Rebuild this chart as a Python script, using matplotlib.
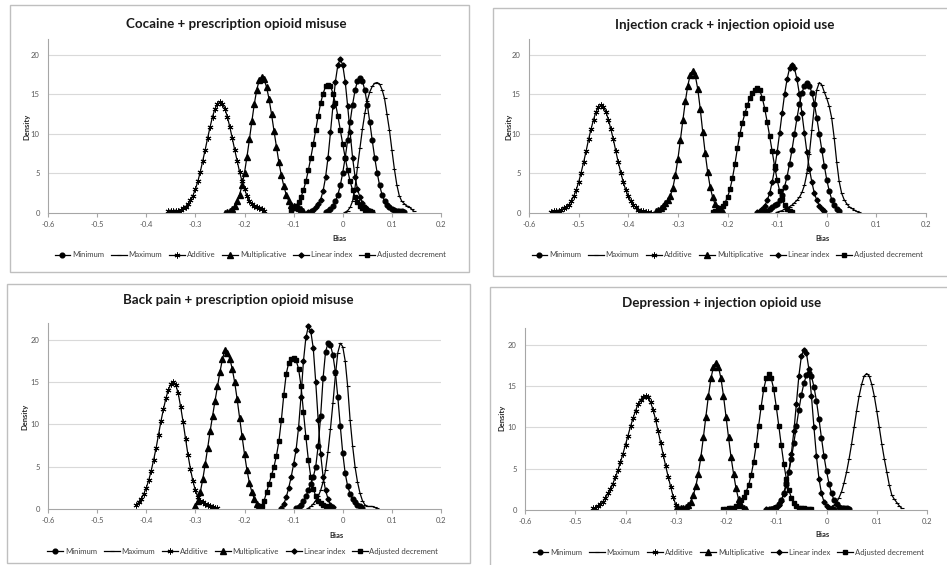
import numpy as np
import matplotlib
matplotlib.use("Agg")
import matplotlib.pyplot as plt
from matplotlib.patches import Rectangle

plt.rcParams['font.family'] = ['Lato', 'DejaVu Sans']

STEP = 0.005
series_names = ["Minimum", "Maximum", "Additive", "Multiplicative",
                "Linear index", "Adjusted decrement"]
titles = ["Cocaine + prescription opioid misuse",
          "Injection crack + injection opioid use",
          "Back pain + prescription opioid misuse",
          "Depression + injection opioid use"]
x_ticks = [-0.6, -0.5, -0.4, -0.3, -0.2, -0.1, 0.0, 0.1, 0.2]
y_ticks = [0, 5, 10, 15, 20]

# ---- Panel 1: Cocaine + prescription opioid misuse (start x, densities at STEP) ----
coc_starts = [-0.035, 0.005, -0.355, -0.24, -0.07, -0.105]
coc_min = [0.1,0.3,0.5,0.9,1.5,2.3,3.5,5.1,7.0,9.2,11.5,13.7,15.5,16.7,17.1,16.7,15.5,13.7,11.5,9.2,7.0,5.1,3.5,2.3,1.5,1.0,0.7,0.5,0.4,0.3,0.2,0.2,0.1]
coc_max = [0.1,0.3,0.7,1.5,3.2,5.8,8.2,10.6,12.6,14.2,15.3,16.0,16.4,16.5,16.3,15.6,14.5,12.5,10.5,8.0,5.6,3.6,2.2,1.5,1.2,0.9,0.8,0.5,0.2]
coc_add = [0.2,0.2,0.2,0.2,0.3,0.4,0.6,0.8,1.1,1.6,2.2,3.0,4.0,5.2,6.6,8.0,9.5,10.9,12.2,13.2,13.8,14.0,13.8,13.2,12.2,10.9,9.5,8.0,6.6,5.2,4.0,3.0,2.2,1.5,1.1,0.9,0.8,0.6,0.5,0.3]
coc_mult = [0.05,0.1,0.3,0.5,0.9,1.5,2.3,3.5,5.1,7.1,9.3,11.6,13.8,15.6,16.8,17.2,16.9,15.9,14.4,12.5,10.4,8.4,6.4,4.8,3.4,2.3,1.5,1.0,0.9,0.8,0.6,0.5,0.3]
coc_lin = [0.1,0.2,0.4,0.7,1.1,1.7,2.8,4.5,7.0,10.2,13.5,16.6,18.7,19.5,18.7,16.6,13.5,10.2,7.0,4.6,3.0,2.0,1.3,0.8,0.5,0.3,0.1]
coc_adj = [0.3,0.6,0.9,1.4,2.0,2.9,4.0,5.4,7.0,8.7,10.5,12.3,13.9,15.1,16.0,16.2,16.1,15.1,13.9,12.3,10.5,8.7,7.0,5.4,4.0,2.9,2.0,1.4,0.9,0.6,0.4,0.3,0.2,0.1]

# ---- Panel 2: Injection crack + injection opioid use ----
crk_starts = [-0.125, -0.1, -0.555, -0.345, -0.14, -0.23]
crk_min = [0.1,0.3,0.5,0.7,1.0,1.2,1.6,2.3,3.3,4.6,6.2,8.0,10.0,12.0,13.8,15.2,16.1,16.4,16.1,15.2,13.8,12.0,10.0,8.0,6.0,4.2,2.8,1.7,1.0,0.5,0.2]
crk_max = [0.1,0.2,0.3,0.5,0.6,0.8,1.0,1.3,1.6,2.0,2.6,3.5,5.0,7.5,10.5,13.5,15.6,16.5,16.2,15.3,14.5,13.5,12.0,9.5,6.5,4.0,2.5,1.7,1.2,0.8,0.6,0.4,0.2,0.1]
crk_add = [0.1,0.2,0.2,0.3,0.4,0.6,0.8,1.0,1.5,2.1,2.9,3.9,5.1,6.4,7.8,9.3,10.6,11.8,12.8,13.4,13.6,13.4,12.8,11.8,10.6,9.3,7.8,6.4,5.1,3.9,2.9,2.1,1.5,1.0,0.7,0.4,0.3,0.2,0.1,0.1,0.05]
crk_mult = [0.2,0.4,0.6,0.9,1.3,1.7,2.2,3.2,4.8,6.8,9.2,11.7,14.1,16.1,17.5,18.0,17.4,15.7,13.2,10.3,7.6,5.2,3.3,2.0,1.1,0.6,0.3,0.1]
crk_lin = [0.1,0.3,0.5,0.9,1.6,2.5,3.9,5.6,7.7,10.1,12.6,15.0,16.9,18.3,18.7,18.3,16.9,15.0,12.6,10.1,7.7,5.6,3.9,2.5,1.6,0.9,0.5,0.3]
crk_adj = [0.1,0.2,0.4,0.6,0.9,1.3,2.0,3.0,4.4,6.2,8.2,10.0,11.4,12.6,13.6,14.6,15.2,15.6,15.8,15.5,14.6,13.2,11.5,9.7,7.8,5.9,4.2,2.8,1.8,1.0,0.5,0.2,0.1]

# ---- Panel 3: Back pain + prescription opioid misuse ----
bck_starts = [-0.095, -0.07, -0.42, -0.3, -0.125, -0.17]
bck_min = [0.1,0.2,0.5,0.9,1.5,2.2,3.0,3.8,5.0,7.5,11.0,15.5,18.6,19.6,19.4,18.2,16.2,13.2,9.8,6.6,4.2,2.7,1.8,1.2,0.8,0.5,0.3,0.1]
bck_max = [0.1,0.3,0.6,1.0,1.5,2.2,3.2,4.6,6.8,9.5,12.5,15.8,18.5,19.6,19.2,17.5,14.5,10.5,7.5,5.0,3.2,1.9,1.0,0.5,0.3,0.3,0.3,0.2,0.1]
bck_add = [0.5,0.8,1.2,1.8,2.5,3.4,4.5,5.8,7.2,8.8,10.4,11.8,13.1,14.1,14.8,15.0,14.7,13.7,12.1,10.3,8.3,6.4,4.7,3.3,2.2,1.4,1.0,0.8,0.6,0.5,0.3,0.2,0.1,0.1]
bck_mult = [0.3,1.0,2.0,3.5,5.3,7.2,9.2,11.0,12.8,14.5,16.2,17.7,18.8,18.5,17.8,16.6,15.0,13.0,10.8,8.6,6.5,4.6,3.1,2.0,1.2,0.6,0.3,0.1]
bck_lin = [0.1,0.6,1.4,2.5,3.8,5.3,7.0,9.6,13.3,17.5,20.3,21.6,21.0,19.0,15.0,10.5,6.5,3.8,2.2,1.2,0.5,0.2]
bck_adj = [0.1,0.4,1.0,2.0,3.0,4.0,5.0,6.3,8.0,10.5,13.5,16.0,17.3,17.8,17.9,17.6,16.6,14.6,11.5,8.5,5.8,3.8,2.4,1.5,1.0,0.7,0.5,0.3,0.2,0.1]

# ---- Panel 4: Depression + injection opioid use ----
dep_starts = [-0.11, 0.01, -0.465, -0.3, -0.12, -0.205]
dep_min = [0.1,0.2,0.4,0.7,1.2,2.0,3.3,4.6,6.2,8.1,10.1,12.1,13.9,15.3,16.3,16.6,16.2,14.9,13.2,11.0,8.7,6.5,4.7,3.2,2.0,1.2,0.7,0.4,0.3,0.2,0.2,0.1]
dep_max = [0.3,0.6,0.9,1.5,2.2,3.3,4.6,6.2,8.0,10.0,12.0,13.8,15.2,16.2,16.5,16.2,15.2,13.8,12.0,10.0,8.0,6.2,4.6,3.0,1.8,1.3,0.9,0.5,0.2]
dep_add = [0.2,0.3,0.5,0.7,1.0,1.5,2.0,2.5,3.2,4.0,4.8,5.8,6.8,7.9,9.0,10.1,11.1,12.0,12.8,13.3,13.7,13.8,13.6,13.0,12.1,10.9,9.5,8.1,6.7,5.3,4.0,2.8,1.6,0.6,0.2,0.1]
dep_mult = [0.1,0.2,0.3,0.3,0.4,0.6,1.0,1.8,2.9,4.4,6.4,8.8,11.3,13.8,15.9,17.3,17.8,17.3,15.9,13.8,11.3,8.8,6.4,4.4,2.6,1.3,0.6,0.3,0.1]
dep_lin = [0.1,0.1,0.1,0.2,0.3,0.6,1.1,1.9,3.0,4.6,6.8,9.5,12.8,16.2,18.6,19.4,19.0,17.0,13.8,10.0,6.5,3.8,2.0,1.0,0.5,0.3,0.2,0.1]
dep_adj = [0.1,0.1,0.2,0.2,0.3,0.5,0.8,1.2,1.6,2.2,3.0,4.2,5.8,7.8,10.2,12.5,14.6,15.9,16.4,15.9,14.6,12.5,10.2,7.8,5.6,3.8,2.4,1.5,0.9,0.5,0.3,0.2,0.2,0.1,0.1,0.1]

panels = [
    (coc_starts, [coc_min, coc_max, coc_add, coc_mult, coc_lin, coc_adj]),
    (crk_starts, [crk_min, crk_max, crk_add, crk_mult, crk_lin, crk_adj]),
    (bck_starts, [bck_min, bck_max, bck_add, bck_mult, bck_lin, bck_adj]),
    (dep_starts, [dep_min, dep_max, dep_add, dep_mult, dep_lin, dep_adj]),
]

styles = [
    dict(marker='o', ms=3.4),
    dict(marker='_', ms=2.8, mew=0.8),
    dict(marker=(6, 2, 0), ms=4.2, mew=0.7),
    dict(marker='^', ms=3.8),
    dict(marker='D', ms=2.6),
    dict(marker='s', ms=3.4),
]

W, H = 947, 565
fig = plt.figure(figsize=(W / 100, H / 100), dpi=100)

# panel frames (pixel boxes: x0, y0, x1, y1)
frames = [(10, 5, 469, 272), (493, 8, 960, 276), (7, 284, 470, 563), (490, 287, 960, 580)]
for x0, y0, x1, y1 in frames:
    fig.add_artist(Rectangle((x0 / W, 1 - y1 / H), (x1 - x0) / W, (y1 - y0) / H,
                             transform=fig.transFigure, fill=False,
                             edgecolor='#bfbfbf', lw=1.0))

# axes boxes (pixel: left, top(y=22), right, bottom(y=0))
axboxes = [(48, 39, 441, 213), (529, 39, 926, 213), (48, 323, 441, 509), (525, 328, 927, 510)]
title_pos = [(236, 24), (725, 25), (238, 300), (722, 303)]
bias_pos = [(0.743, -0.145), (0.74, -0.145), (0.735, -0.14), (0.741, -0.137)]
dens_pos = [(-0.055, 0.494), (-0.05, 0.494), (-0.06, 0.495), (-0.058, 0.505)]
leg_pos = [(0.514, -0.241), (0.499, -0.241), (0.496, -0.226), (0.505, -0.231)]

tick_fmt = lambda v: '0' if abs(v) < 1e-9 else f'{v:g}'

for i, (starts, vals_list) in enumerate(panels):
    l, t, r, b = axboxes[i]
    ax = fig.add_axes([l / W, 1 - b / H, (r - l) / W, (b - t) / H])
    for name, start, vals, st in zip(series_names, starts, vals_list, styles):
        x = start + STEP * np.arange(len(vals))
        ax.plot(x, vals, color='black', lw=0.9, label=name,
                mfc='black', mec='black', **st)
    ax.set_xlim(-0.6, 0.2)
    ax.set_ylim(0, 22)
    ax.set_xticks(x_ticks)
    ax.set_xticklabels([tick_fmt(v) for v in x_ticks])
    ax.set_yticks(y_ticks)
    ax.set_yticklabels([str(v) for v in y_ticks])
    ax.tick_params(axis='x', length=3, width=0.8, color='#a6a6a6',
                   labelsize=5.5, labelcolor='#595959', pad=3)
    ax.tick_params(axis='y', length=0, labelsize=5.5, labelcolor='#595959', pad=6)
    for s in ['top', 'right']:
        ax.spines[s].set_visible(False)
    for s in ['left', 'bottom']:
        ax.spines[s].set_color('#a6a6a6')
        ax.spines[s].set_linewidth(0.8)
    for yv in y_ticks[1:]:
        ax.axhline(yv, color='#d9d9d9', lw=0.8, zorder=0)
    ax.text(*bias_pos[i], 'Bias', transform=ax.transAxes, ha='center', va='center',
            fontsize=5.5, fontweight='bold', color='#262626')
    ax.text(*dens_pos[i], 'Density', transform=ax.transAxes, ha='center', va='center',
            rotation=90, fontsize=5.5, fontweight='bold', color='#262626')
    ax.legend(loc='center', bbox_to_anchor=leg_pos[i], ncol=6, frameon=False,
              fontsize=5.6, handlelength=2.0, handletextpad=0.25, columnspacing=0.9,
              labelcolor='#404040')
    tx, ty = title_pos[i]
    fig.text(tx / W, 1 - ty / H, titles[i], ha='center', va='center',
             fontsize=9.6, fontweight='bold', color='#1a1a1a')

fig.savefig('out.png', dpi=100)
